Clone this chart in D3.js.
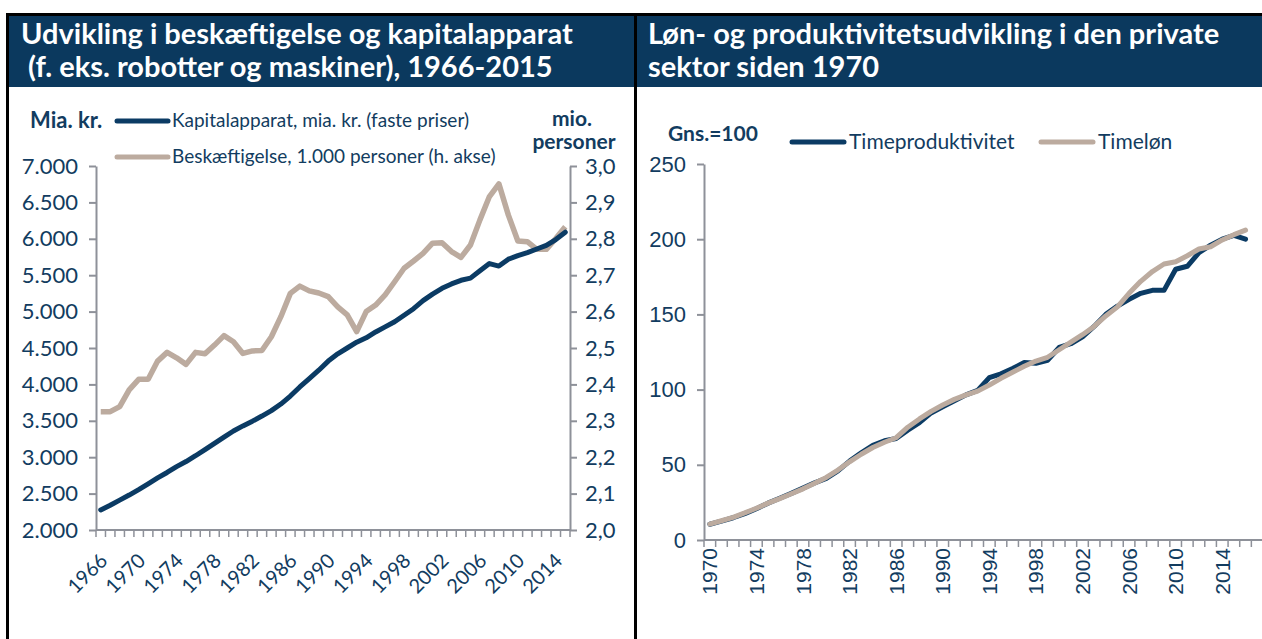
<!DOCTYPE html>
<html>
<head>
<meta charset="utf-8">
<script src="https://cdn.jsdelivr.net/npm/d3@7.9.0/dist/d3.min.js"></script>
<style>
  body { margin: 0; background: #fff; }
  svg text { font-family: Lato, sans-serif; }
</style>
</head>
<body>
<svg id="chart" width="1262" height="639"></svg>
<script>
// --- left panel data: 1966-2015 ---
const yearsLeft = d3.range(1966, 2016);
const tickYearsLeft = [1966, 1970, 1974, 1978, 1982, 1986, 1990, 1994, 1998, 2002, 2006, 2010, 2014];
const kapital = [
  2275, 2340, 2410, 2480, 2555, 2635, 2715, 2790, 2870, 2940,
  3020, 3105, 3190, 3275, 3360, 3430, 3495, 3565, 3640, 3730,
  3840, 3965, 4080, 4195, 4320, 4420, 4500, 4580, 4640, 4720,
  4790, 4860, 4950, 5040, 5150, 5240, 5320, 5380, 5430, 5460,
  5560, 5660, 5625, 5720, 5770, 5810, 5860, 5910, 5990, 6090
];
const beskaeft = [
  2.325, 2.325, 2.339, 2.385, 2.414, 2.414, 2.464, 2.488, 2.473, 2.455,
  2.488, 2.484, 2.508, 2.534, 2.517, 2.485, 2.492, 2.493, 2.531, 2.586,
  2.650, 2.670, 2.657, 2.651, 2.641, 2.613, 2.591, 2.545, 2.600, 2.618,
  2.646, 2.682, 2.719, 2.739, 2.760, 2.788, 2.789, 2.765, 2.749, 2.783,
  2.852, 2.916, 2.951, 2.865, 2.794, 2.792, 2.771, 2.771, 2.801, 2.833
];
const leftTicks = [2000, 2500, 3000, 3500, 4000, 4500, 5000, 5500, 6000, 6500, 7000];
const rightTicks = [2.0, 2.1, 2.2, 2.3, 2.4, 2.5, 2.6, 2.7, 2.8, 2.9, 3.0];

// --- right panel data: 1970-2016 (axis runs to 2017) ---
const yearsRight = d3.range(1970, 2018);
const tickYearsRight = [1970, 1974, 1978, 1982, 1986, 1990, 1994, 1998, 2002, 2006, 2010, 2014];
const timeprod = [
  10.5, 12.5, 14.8, 17.5, 20.8, 24.5, 27.8, 31.0, 34.5, 38.0,
  41.0, 46.0, 52.5, 58.0, 63.0, 66.0, 67.5, 73.0, 78.0, 84.5,
  88.5, 92.5, 96.5, 99.5, 108.0, 110.5, 114.0, 118.0, 117.5, 119.5,
  128.0, 130.5, 135.0, 142.0, 150.0, 155.5, 160.0, 164.0, 166.0, 166.0,
  180.0, 182.0, 191.0, 196.0, 200.0, 202.5, 200.0
];
const timeloen = [
  10.6, 12.8, 15.1, 18.0, 21.1, 24.5, 27.5, 30.8, 34.0, 37.8,
  41.6, 46.5, 52.0, 57.0, 61.5, 65.0, 68.0, 75.0, 80.5, 85.5,
  89.8, 93.5, 96.5, 99.0, 103.0, 107.5, 111.5, 115.5, 119.0, 121.5,
  126.5, 131.5, 136.5, 142.0, 149.0, 155.0, 164.0, 172.0, 178.5, 183.5,
  185.0, 189.0, 193.5, 195.0, 199.5, 203.0, 206.0
];
const indexTicks = [0, 50, 100, 150, 200, 250];

const navy = '#0b3b64';
const taupe = '#bcab9f';
const ink = '#123c60';
const grey = '#8e9199';
const barFill = '#0b395e';

const da = d3.formatLocale({ decimal: ',', thousands: '.', grouping: [3], currency: ['', ' kr.'] });

const svg = d3.select('#chart');

// frame + title bars
svg.append('rect').attr('x', 9).attr('y', 16).attr('width', 625).attr('height', 71).attr('fill', barFill);
svg.append('rect').attr('x', 637).attr('y', 16).attr('width', 625).attr('height', 71).attr('fill', barFill);
svg.append('line').attr('x1', 6).attr('x2', 1262).attr('y1', 14.5).attr('y2', 14.5).attr('stroke', '#000').attr('stroke-width', 3);
svg.append('line').attr('x1', 7.5).attr('x2', 7.5).attr('y1', 13).attr('y2', 639).attr('stroke', '#000').attr('stroke-width', 3);
svg.append('line').attr('x1', 635.5).attr('x2', 635.5).attr('y1', 13).attr('y2', 639).attr('stroke', '#000').attr('stroke-width', 3);

function title(x, lines) {
  const t = svg.append('text').attr('fill', '#fff').attr('font-weight', 700)
    .attr('font-size', 29).style('white-space', 'pre');
  lines.forEach((s, i) => t.append('tspan').attr('x', x).attr('y', 44 + i * 33).text(s));
}
title(21, ['Udvikling i beskæftigelse og kapitalapparat', ' (f. eks. robotter og maskiner), 1966-2015']);
title(648, ['Løn- og produktivitetsudvikling i den private', 'sektor siden 1970']);

function styleAxis(g, size) {
  g.select('.domain').attr('stroke', grey).attr('stroke-width', 2);
  g.selectAll('.tick line').attr('stroke', grey).attr('stroke-width', 2);
  g.selectAll('.tick text').attr('fill', ink).attr('font-size', size);
}

// ================= LEFT PANEL =================
const xL = d3.scaleBand().domain(yearsLeft).range([96, 570]);
const yL = d3.scaleLinear().domain([2000, 7000]).range([530, 166]);
const yR = d3.scaleLinear().domain([2.0, 3.0]).range([530, 166]);

const gLy = svg.append('g').attr('transform', 'translate(96,0)')
  .call(d3.axisLeft(yL).tickValues(leftTicks).tickSize(7).tickSizeOuter(0).tickPadding(11).tickFormat(da.format(',')));
styleAxis(gLy, 22);
const gRy = svg.append('g').attr('transform', 'translate(570,0)')
  .call(d3.axisRight(yR).tickValues(rightTicks).tickSize(7).tickSizeOuter(0).tickPadding(8).tickFormat(da.format('.1f')));
styleAxis(gRy, 22);

const gLx = svg.append('g').attr('transform', 'translate(0,530)');
gLx.append('line').attr('x1', 96).attr('x2', 570).attr('stroke', grey).attr('stroke-width', 2);
gLx.selectAll('line.tk').data(yearsLeft.concat([null])).join('line').attr('class', 'tk')
  .attr('x1', d => d === null ? 570 : xL(d)).attr('x2', d => d === null ? 570 : xL(d))
  .attr('y1', 0).attr('y2', 7).attr('stroke', grey).attr('stroke-width', 1.5);
gLx.selectAll('text').data(tickYearsLeft).join('text')
  .attr('transform', d => `translate(${xL(d) + xL.bandwidth() / 2 + 3},${27}) rotate(-45)`)
  .attr('text-anchor', 'end').attr('dy', '0.35em').attr('font-size', 20).attr('fill', ink)
  .text(d => d);

const lineL = d3.line().x((d, i) => xL(yearsLeft[i]) + xL.bandwidth() / 2).y(d => yL(d));
const lineR = d3.line().x((d, i) => xL(yearsLeft[i]) + xL.bandwidth() / 2).y(d => yR(d));
svg.append('path').datum(beskaeft).attr('d', lineR).attr('fill', 'none').attr('stroke', taupe)
  .attr('stroke-width', 5.5).attr('stroke-linejoin', 'round');
svg.append('path').datum(kapital).attr('d', lineL).attr('fill', 'none').attr('stroke', navy)
  .attr('stroke-width', 5).attr('stroke-linejoin', 'round').attr('stroke-linecap', 'round');

// left legend + unit labels
svg.append('text').attr('x', 30).attr('y', 128).attr('font-weight', 700).attr('font-size', 22).attr('fill', ink).text('Mia. kr.');
svg.append('text').attr('x', 572).attr('y', 126).attr('text-anchor', 'middle').attr('font-weight', 700).attr('font-size', 21).attr('fill', ink).text('mio.');
svg.append('text').attr('x', 574).attr('y', 149).attr('text-anchor', 'middle').attr('font-weight', 700).attr('font-size', 21).attr('fill', ink).text('personer');
const legL = [
  { label: 'Kapitalapparat, mia. kr. (faste priser)', color: navy, y: 121 },
  { label: 'Beskæftigelse, 1.000 personer (h. akse)', color: taupe, y: 157 }
];
legL.forEach(d => {
  svg.append('line').attr('x1', 117).attr('x2', 168).attr('y1', d.y).attr('y2', d.y)
    .attr('stroke', d.color).attr('stroke-width', 5).attr('stroke-linecap', 'round');
  svg.append('text').attr('x', 172).attr('y', d.y + 6).attr('font-size', 19).attr('fill', ink).text(d.label);
});

// ================= RIGHT PANEL =================
const xR = d3.scaleBand().domain(yearsRight).range([704, 1263]);
const yI = d3.scaleLinear().domain([0, 250]).range([540, 164]);

const gIy = svg.append('g').attr('transform', 'translate(704,0)')
  .call(d3.axisLeft(yI).tickValues(indexTicks).tickSize(7).tickSizeOuter(0).tickPadding(11));
styleAxis(gIy, 22);
gIy.selectAll('.tick text').style('font-family', '"Liberation Sans", Arial, sans-serif');

const gIx = svg.append('g').attr('transform', 'translate(0,540)');
gIx.append('line').attr('x1', 704).attr('x2', 1263).attr('stroke', grey).attr('stroke-width', 2);
gIx.selectAll('line.tk').data(yearsRight).join('line').attr('class', 'tk')
  .attr('x1', d => xR(d)).attr('x2', d => xR(d))
  .attr('y1', 0).attr('y2', 7).attr('stroke', grey).attr('stroke-width', 1.5);
gIx.selectAll('text').data(tickYearsRight).join('text')
  .attr('transform', d => `translate(${xR(d) + xR.bandwidth() / 2},${8}) rotate(-90)`)
  .attr('text-anchor', 'end').attr('dy', '0.36em').attr('font-size', 21).attr('fill', ink)
  .style('font-family', '"Liberation Sans", Arial, sans-serif')
  .text(d => d);

const lineI = d3.line().x((d, i) => xR(yearsRight[i]) + xR.bandwidth() / 2).y(d => yI(d));
svg.append('path').datum(timeprod).attr('d', lineI).attr('fill', 'none').attr('stroke', navy)
  .attr('stroke-width', 5).attr('stroke-linejoin', 'round').attr('stroke-linecap', 'round');
svg.append('path').datum(timeloen).attr('d', lineI).attr('fill', 'none').attr('stroke', taupe)
  .attr('stroke-width', 5).attr('stroke-linejoin', 'round').attr('stroke-linecap', 'round');

svg.append('text').attr('x', 668).attr('y', 141).attr('font-weight', 700).attr('font-size', 21).attr('fill', ink).text('Gns.=100');
const legR = [
  { label: 'Timeproduktivitet', color: navy, x: 792 },
  { label: 'Timeløn', color: taupe, x: 1041 }
];
legR.forEach(d => {
  svg.append('line').attr('x1', d.x).attr('x2', d.x + 52).attr('y1', 142).attr('y2', 142)
    .attr('stroke', d.color).attr('stroke-width', 5).attr('stroke-linecap', 'round');
  svg.append('text').attr('x', d.x + 57).attr('y', 149).attr('font-size', 21).attr('fill', ink).text(d.label);
});
</script>
</body>
</html>
